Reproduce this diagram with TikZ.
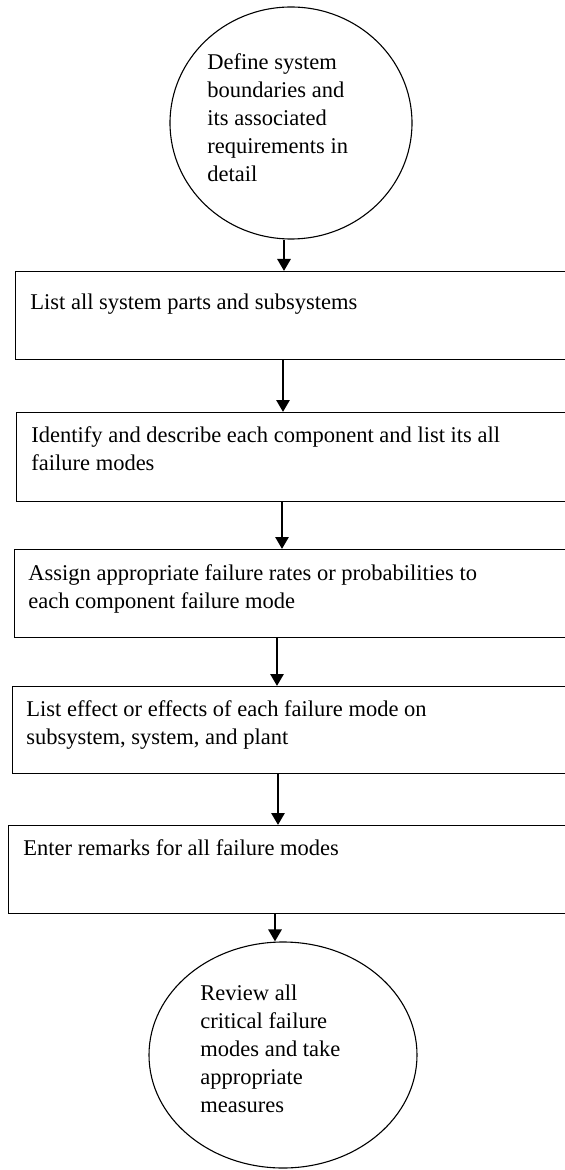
\documentclass[tikz,border=0pt]{standalone}
\usepackage{fontspec}
\setmainfont{Liberation Serif}
\usetikzlibrary{shapes.geometric,arrows.meta}

\begin{document}
\begin{tikzpicture}[x=0.5pt,y=-0.5pt,
  stepbox/.style={draw=black, line width=0.7pt, rectangle, inner sep=0pt, anchor=north west},
  terminal/.style={draw=black, line width=0.55pt, ellipse, inner sep=0pt},
  steptext/.style={font=\fontsize{11.25pt}{14pt}\selectfont, align=left, inner sep=0pt, anchor=base west},
  flow/.style={line width=1.4pt, -{Triangle[length=6pt,width=6.5pt]}}
]
\useasboundingbox (0,0) rectangle (564,1170);

% start and end terminals
\node[terminal, minimum width=121pt, minimum height=116pt] (e1) at (291,123) {};
\node[terminal, minimum width=134pt, minimum height=113pt] (e2) at (283,1055) {};

% process steps (right sides run past the page edge)
\node[stepbox, minimum width=283pt, minimum height=44pt] (b1) at (15,271) {};
\node[stepbox, minimum width=283pt, minimum height=44.5pt] (b2) at (16,412) {};
\node[stepbox, minimum width=284pt, minimum height=44pt] (b3) at (14,549) {};
\node[stepbox, minimum width=285pt, minimum height=43.5pt] (b4) at (12,686) {};
\node[stepbox, minimum width=287pt, minimum height=44pt] (b5) at (8,825) {};

% texts (anchored at the baseline of their last line)
\node[steptext] (t0) at (207,182) {Define system\\boundaries and\\its associated\\requirements in\\detail};
\node[steptext] (t1) at (30,310) {List all system parts and subsystems};
\node[steptext] (t2) at (31,470) {Identify and describe each component and list its all\\failure modes};
\node[steptext] (t3) at (28,608) {Assign appropriate failure rates or probabilities to\\each component failure mode};
\node[steptext] (t4) at (26,744) {List effect or effects of each failure mode on\\subsystem, system, and plant};
\node[steptext] (t5) at (23,855) {Enter remarks for all failure modes};
\node[steptext] (t6) at (200,1112) {Review all\\critical failure\\modes and take\\appropriate\\measures};

% connectors
\draw[flow] (e1.south -| 284,0) -- (b1.north -| 284,0);
\draw[flow] (b1.south -| 283,0) -- (b2.north -| 283,0);
\draw[flow] (b2.south -| 282,0) -- (b3.north -| 282,0);
\draw[flow] (b3.south -| 277,0) -- (b4.north -| 277,0);
\draw[flow] (b4.south -| 278,0) -- (b5.north -| 278,0);
\draw[flow] (b5.south -| 275,0) -- (e2.north -| 275,0);
\end{tikzpicture}
\end{document}
